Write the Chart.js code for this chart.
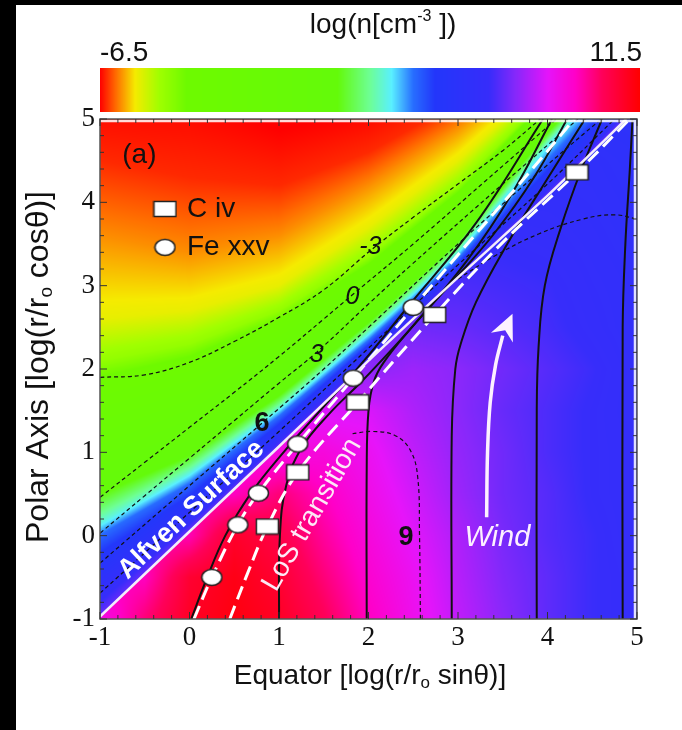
<!DOCTYPE html>
<html>
<head>
<meta charset="utf-8">
<script src="https://cdn.jsdelivr.net/npm/chart.js@4.4.1/dist/chart.umd.min.js"></script>
<style>
  html, body { margin: 0; padding: 0; background: #000; }
  #wrap { position: absolute; left: 16px; top: 5px; width: 666px; height: 725px; background: #fff; }
  canvas { display: block; }
</style>
</head>
<body>
<div id="wrap"><canvas id="c" width="666" height="725"></canvas></div>
<script>
// ---- data ----
const xTicks = [-1, 0, 1, 2, 3, 4, 5];
const yTicks = [-1, 0, 1, 2, 3, 4, 5];
const cbarRange = [-6.5, 11.5];

// ion markers (C iv squares, Fe xxv circles)
const civPoints = [[0.87, 0.11], [1.21, 0.76], [1.88, 1.6], [2.74, 2.65], [4.33, 4.36]];
const fePoints = [[0.25, -0.5], [0.54, 0.13], [0.77, 0.51], [1.21, 1.1], [1.83, 1.89], [2.5, 2.74]];

// lines of sight (white dashed) and the Alfven surface
const losFe = [[0.05, -1], [0.25, -0.5], [0.54, 0.13], [0.77, 0.51], [1.21, 1.1], [1.83, 1.89], [2.5, 2.74], [3.2, 3.62], [3.75, 4.3], [4.3, 5]];
const losCiv = [[0.45, -1], [0.65, -0.45], [0.87, 0.11], [1.21, 0.76], [1.88, 1.6], [2.74, 2.65], [3.5, 3.52], [4.33, 4.36], [4.92, 5]];
const alfvenLine = [[-1, -0.97], [0, 0.05], [1, 1.07], [2, 2.1], [3, 3.1], [4, 4.08], [4.88, 5]];

// magnetic field lines (black solid)
const field1 = [[0.02, -1], [0.18, -0.55], [0.4, 0.0], [0.68, 0.5], [1.05, 1.0], [1.5, 1.55], [1.95, 2.1], [2.42, 2.72], [3.2, 3.75], [3.95, 5]];
const field2 = [[1.0, -1], [1.01, 0.0], [1.08, 0.6], [1.25, 1.05], [1.55, 1.45], [1.95, 1.88], [2.5, 2.52], [3.1, 3.3], [3.6, 4.1], [4.05, 5]];
const field3 = [[1.98, -1], [1.98, 0.8], [2.0, 1.5], [2.06, 1.85], [2.17, 2.08], [2.46, 2.47], [2.9, 3.0], [3.4, 3.62], [3.85, 4.3], [4.22, 5]];
const field4 = [[2.93, -1], [2.93, 1.2], [2.97, 2.0], [3.03, 2.3], [3.2, 2.8], [3.55, 3.5], [3.95, 4.2], [4.42, 5]];
const field5 = [[3.88, -1], [3.88, 1.5], [3.9, 2.26], [3.97, 3.0], [4.15, 3.7], [4.38, 4.4], [4.61, 5]];
const field6 = [[4.84, -1], [4.84, 2.5], [4.87, 3.5], [4.92, 4.4], [4.95, 5]];

// dashed contours
const contourM3 = [[-1, 1.9], [-0.5, 1.93], [0, 2.08], [0.5, 2.33], [1, 2.62], [1.5, 2.95], [2.02, 3.42], [2.5, 3.82], [3, 4.22], [3.5, 4.62], [3.92, 5]];
const contour0 = [[-1, 0.46], [-0.5, 0.88], [0, 1.3], [0.5, 1.72], [1, 2.15], [1.5, 2.6], [1.82, 2.89], [2.5, 3.5], [3.3, 4.25], [4.1, 5]];
const contour3 = [[-1, 0.03], [-0.5, 0.48], [0, 0.93], [0.5, 1.38], [1, 1.83], [1.42, 2.2], [2, 2.78], [2.5, 3.27], [3.5, 4.22], [4.34, 5]];
const contour6 = [[-1, -0.33], [0, 0.6], [0.81, 1.35], [1.5, 2.0], [2, 2.5], [3, 3.5], [4, 4.45], [4.6, 5]];
const contourIn = [[-1, -0.69], [0, 0.28], [1, 1.25], [2, 2.25], [3, 3.25], [4, 4.22], [4.75, 5]];
const contour9 = [[2.58, -1], [2.57, 0], [2.55, 0.7], [2.47, 1.02], [2.3, 1.2], [2.05, 1.25], [1.8, 1.22]];
const contourWind = [[3.0, 3.08], [3.4, 3.35], [3.9, 3.62], [4.4, 3.8], [4.75, 3.85], [5, 3.8]];
const contourLabels = [['-3', 2.02, 3.46, 'italic'], ['0', 1.82, 2.86, 'italic'], ['3', 1.42, 2.17, 'italic'], ['6', 0.81, 1.35, 'bold'], ['9', 2.42, -0.02, 'bold']];

// wind arrow (last point is the tip)
const windArrow = [[3.32, 0.22], [3.33, 1.0], [3.36, 1.6], [3.42, 2.05], [3.5, 2.4], [3.6, 2.64]];

// density above the Alfven surface: for each column x, the height above the
// surface at which each density level is reached
const upperXs = [-1, 0, 1, 2, 3, 4, 5];
const upperLevels = [7.0, 5.5, 4.0, 3.0, 1.5, -1.0, -4.3, -5.2, -5.8, -6.3, -6.5];
const upperHeights = [
  [0, 0.5, 0.97, 1.12, 1.45, 2.1, 3.07, 3.57, 4.57, 5.47, 6.2],
  [0, 0.25, 0.57, 0.7, 0.9, 1.5, 2.25, 2.65, 3.35, 4.25, 5.2],
  [0, 0.15, 0.36, 0.45, 0.6, 1.1, 1.63, 1.93, 2.53, 3.13, 3.8],
  [0, 0.12, 0.24, 0.33, 0.45, 0.8, 1.25, 1.6, 2.1, 2.5, 3.0],
  [0, 0.1, 0.22, 0.3, 0.42, 0.7, 1.1, 1.4, 1.8, 2.1, 2.5],
  [0, 0.15, 0.42, 0.62, 0.75, 0.95, 1.2, 1.4, 1.7, 2.0, 2.4],
  [0, 0.2, 0.5, 0.7, 0.85, 1.1, 1.4, 1.6, 1.9, 2.2, 2.6]
];

// density below the Alfven surface: regular grid, rows are y = -1 .. 5
const lowerXs = [-1, -0.5, 0, 0.5, 1, 1.5, 2, 2.5, 3, 3.5, 4, 4.5, 5];
const lowerYs = [-1, -0.5, 0, 0.5, 1, 1.5, 2, 2.5, 3, 3.5, 4, 4.5, 5];
const lowerVals = [
  [8.8, 10.0, 11.0, 11.3, 11.0, 10.3, 9.4, 8.7, 8.0, 7.4, 6.9, 6.5, 6.3],
  [null, 9.4, 10.8, 11.2, 10.8, 10.0, 9.2, 8.6, 7.9, 7.3, 6.9, 6.5, 6.3],
  [null, null, 9.5, 10.9, 10.5, 9.7, 9.0, 8.4, 7.8, 7.2, 6.8, 6.5, 6.2],
  [null, null, null, 9.4, 10.0, 9.4, 8.8, 8.2, 7.6, 7.1, 6.8, 6.4, 6.2],
  [null, null, null, null, 8.9, 9.0, 8.6, 8.0, 7.5, 7.1, 6.7, 6.4, 6.2],
  [null, null, null, null, null, 8.3, 8.3, 7.8, 7.4, 7.0, 6.7, 6.4, 6.1],
  [null, null, null, null, null, null, 7.4, 7.6, 7.4, 7.1, 6.8, 6.5, 6.1],
  [null, null, null, null, null, null, null, 7.1, 7.0, 6.8, 6.6, 6.3, 6.0],
  [null, null, null, null, null, null, null, null, 6.7, 6.6, 6.5, 6.2, 6.0],
  [null, null, null, null, null, null, null, null, null, 6.4, 6.3, 6.1, 5.9],
  [null, null, null, null, null, null, null, null, null, null, 6.1, 6.0, 5.8],
  [null, null, null, null, null, null, null, null, null, null, null, 5.9, 5.7],
  [null, null, null, null, null, null, null, null, null, null, null, null, 5.6]
];

// ---- colour map (rainbow that wraps red -> red) ----
const cmapStops = [
  [0.00, 255, 0, 0], [0.03, 255, 110, 0], [0.065, 245, 235, 0], [0.11, 160, 255, 0],
  [0.16, 110, 250, 0], [0.44, 100, 250, 10], [0.50, 110, 255, 150], [0.54, 90, 240, 255],
  [0.58, 40, 110, 255], [0.62, 35, 55, 250], [0.72, 55, 45, 250], [0.77, 135, 40, 250],
  [0.83, 230, 20, 250], [0.88, 255, 0, 200], [0.93, 255, 0, 90], [1.00, 255, 0, 0]
];
function cmap(v) {
  let f = (v - cbarRange[0]) / (cbarRange[1] - cbarRange[0]);
  f = Math.max(0, Math.min(1, f));
  for (let i = 1; i < cmapStops.length; i++) {
    if (f <= cmapStops[i][0]) {
      const a = cmapStops[i - 1], b = cmapStops[i];
      const t = (f - a[0]) / (b[0] - a[0]);
      return [a[1] + (b[1] - a[1]) * t, a[2] + (b[2] - a[2]) * t, a[3] + (b[3] - a[3]) * t];
    }
  }
  return [255, 0, 0];
}

function seg(arr, v) {
  if (v <= arr[0]) return [0, 0];
  const n = arr.length - 1;
  if (v >= arr[n]) return [n - 1, 1];
  let i = 0;
  while (arr[i + 1] < v) i++;
  return [i, (v - arr[i]) / (arr[i + 1] - arr[i])];
}
function lineY(x, pts) {
  let i = 0;
  while (i < pts.length - 2 && pts[i + 1][0] < x) i++;
  const a = pts[i], b = pts[i + 1];
  return a[1] + (b[1] - a[1]) * (x - a[0]) / (b[0] - a[0]);
}
// rendering helper: extend each row of the lower grid up to the surface
const lowerFilled = lowerVals.map(row => {
  const r = row.slice();
  for (let i = r.length - 2; i >= 0; i--) if (r[i] === null) r[i] = r[i + 1];
  return r;
});
function fieldAt(x, y) {
  const yl = lineY(x, alfvenLine);
  if (y >= yl) {
    const [i, t] = seg(upperXs, x);
    const h0 = upperHeights[i], h1 = upperHeights[i + 1];
    const hs = h0.map((v, k) => v + (h1[k] - v) * t);
    const [k, u] = seg(hs, y - yl);
    return upperLevels[k] + (upperLevels[k + 1] - upperLevels[k]) * u;
  }
  const [i, tx] = seg(lowerXs, x), [j, ty] = seg(lowerYs, y);
  const r0 = lowerFilled[j], r1 = lowerFilled[j + 1];
  const a = r0[i] + (r0[i + 1] - r0[i]) * tx;
  const b = r1[i] + (r1[i + 1] - r1[i]) * tx;
  return a + (b - a) * ty;
}

// ---- plugins ----
const heatmap = {
  id: 'heatmap',
  beforeDatasetsDraw(chart) {
    const { ctx, chartArea: a, scales: { x: sx, y: sy } } = chart;
    const w = Math.round(a.right - a.left), h = Math.round(a.bottom - a.top);
    const off = document.createElement('canvas');
    off.width = w; off.height = h;
    const octx = off.getContext('2d');
    const img = octx.createImageData(w, h);
    for (let j = 0; j < h; j++) {
      const yv = sy.getValueForPixel(a.top + j + 0.5);
      for (let i = 0; i < w; i++) {
        const xv = sx.getValueForPixel(a.left + i + 0.5);
        const c = cmap(fieldAt(xv, yv));
        const k = (j * w + i) * 4;
        img.data[k] = c[0]; img.data[k + 1] = c[1]; img.data[k + 2] = c[2]; img.data[k + 3] = 255;
      }
    }
    octx.putImageData(img, 0, 0);
    ctx.drawImage(off, a.left, a.top);
  }
};

function drawRich(ctx, parts, cx, cy, angle) {
  ctx.save();
  ctx.translate(cx, cy);
  ctx.rotate(angle);
  ctx.textBaseline = 'middle';
  ctx.textAlign = 'left';
  let total = 0;
  parts.forEach(p => { ctx.font = p.font; total += ctx.measureText(p.t).width; });
  let x = -total / 2;
  parts.forEach(p => {
    ctx.font = p.font;
    ctx.fillStyle = p.color || '#111';
    ctx.fillText(p.t, x, p.dy || 0);
    x += ctx.measureText(p.t).width;
  });
  ctx.restore();
}

const decorations = {
  id: 'decorations',
  afterDatasetsDraw(chart) {
    const { ctx, chartArea: a, scales: { x: sx, y: sy } } = chart;
    const px = v => sx.getPixelForValue(v), py = v => sy.getPixelForValue(v);
    ctx.save();

    // arrow head of the wind arrow
    const n = windArrow.length;
    const tx = px(windArrow[n - 1][0]), ty = py(windArrow[n - 1][1]);
    const bx = px(windArrow[n - 2][0]), by = py(windArrow[n - 2][1]);
    const ang = Math.atan2(ty - by, tx - bx);
    ctx.translate(tx, ty); ctx.rotate(ang);
    ctx.fillStyle = '#fdf2ff';
    ctx.beginPath();
    ctx.moveTo(2, 0); ctx.lineTo(-24, -12); ctx.lineTo(-16, 0); ctx.lineTo(-24, 12); ctx.closePath();
    ctx.fill();
    ctx.setTransform(1, 0, 0, 1, 0, 0);

    // contour labels
    ctx.textAlign = 'center'; ctx.textBaseline = 'middle'; ctx.fillStyle = '#111';
    contourLabels.forEach(([t, x, y, style]) => {
      ctx.font = (style === 'bold' ? 'bold 27px' : 'italic 25px') + ' "Liberation Sans", Arial, sans-serif';
      ctx.fillText(t, px(x), py(y));
    });

    // in-plot texts
    const aAng = Math.atan2(py(alfvenLine[5][1]) - py(alfvenLine[1][1]), px(alfvenLine[5][0]) - px(alfvenLine[1][0]));
    drawRich(ctx, [{ t: 'Alfven Surface', font: 'bold 27px "Liberation Sans", Arial, sans-serif', color: '#fff' }], px(0.02), py(0.31), aAng);
    drawRich(ctx, [{ t: 'LoS transition', font: '28px "Liberation Sans", Arial, sans-serif', color: '#fde8f6' }], px(1.37), py(0.25), -Math.PI / 3);
    drawRich(ctx, [{ t: 'Wind', font: 'italic 29px "Liberation Sans", Arial, sans-serif', color: '#fdf0ff' }], px(3.44), py(-0.03), 0);
    drawRich(ctx, [{ t: '(a)', font: '28px "Liberation Sans", Arial, sans-serif' }], px(-0.56), py(4.57), 0);

    // marker key
    ctx.drawImage(rectMark, px(-0.274) - rectMark.width / 2, py(3.92) - rectMark.height / 2);
    ctx.drawImage(ovalMark, px(-0.274) - ovalMark.width / 2, py(3.46) - ovalMark.height / 2);
    ctx.font = '28px "Liberation Sans", Arial, sans-serif';
    ctx.textAlign = 'left'; ctx.fillStyle = '#111';
    ctx.fillText('C iv', px(-0.028), py(3.92));
    ctx.fillText('Fe xxv', px(-0.028), py(3.46));

    // frame with inward ticks
    ctx.strokeStyle = 'rgba(255,255,255,0.85)'; ctx.lineWidth = 2.5;
    ctx.beginPath();
    ctx.moveTo(a.left, a.top + 2); ctx.lineTo(a.right - 2, a.top + 2); ctx.lineTo(a.right - 2, a.bottom);
    ctx.stroke();
    ctx.strokeStyle = '#555'; ctx.lineWidth = 1.5;
    ctx.strokeRect(a.left, a.top, a.right - a.left, a.bottom - a.top);
    ctx.strokeStyle = '#333'; ctx.lineWidth = 1;
    ctx.beginPath();
    for (let k = 0; k <= 30; k++) {
      const v = -1 + k * 0.2, len = k % 5 === 0 ? 7 : 4;
      const X = px(v), Y = py(v);
      ctx.moveTo(X, a.bottom); ctx.lineTo(X, a.bottom - len);
      ctx.moveTo(X, a.top); ctx.lineTo(X, a.top + len);
      ctx.moveTo(a.left, Y); ctx.lineTo(a.left + len, Y);
      ctx.moveTo(a.right, Y); ctx.lineTo(a.right - len, Y);
    }
    ctx.stroke();

    // colour bar
    const cbL = 84, cbR = 624, cbT = 63, cbB = 107;
    for (let i = cbL; i < cbR; i++) {
      const v = cbarRange[0] + (i + 0.5 - cbL) / (cbR - cbL) * (cbarRange[1] - cbarRange[0]);
      const c = cmap(v);
      ctx.fillStyle = `rgb(${c[0] | 0},${c[1] | 0},${c[2] | 0})`;
      ctx.fillRect(i, cbT, 1, cbB - cbT);
    }
    ctx.fillStyle = '#111';
    ctx.font = '28px "Liberation Sans", Arial, sans-serif';
    ctx.textBaseline = 'middle';
    ctx.textAlign = 'left'; ctx.fillText(String(cbarRange[0]), cbL, 48);
    ctx.textAlign = 'right'; ctx.fillText(String(cbarRange[1]), cbR + 2, 48);
    const sans = s => s + 'px "Liberation Sans", Arial, sans-serif';
    drawRich(ctx, [{ t: 'log(n[cm', font: sans(28) }, { t: '-3', font: sans(16), dy: -8 }, { t: ' ])', font: sans(28) }], 367, 20, 0);

    // axis titles
    drawRich(ctx, [{ t: 'Equator [log(r/r', font: sans(28) }, { t: 'o', font: sans(17), dy: 7 }, { t: ' sin\u03b8)]', font: sans(28) }], 354, 671, 0);
    drawRich(ctx, [{ t: 'Polar Axis [log(r/r', font: sans(32) }, { t: 'o', font: sans(19), dy: 8 }, { t: ' cos\u03b8)]', font: sans(32) }], 23, 362, -Math.PI / 2);
    ctx.restore();
  }
};

// marker images
function makeMark(w, h, oval) {
  const c = document.createElement('canvas');
  c.width = w + 3; c.height = h + 3;
  const g = c.getContext('2d');
  g.fillStyle = '#fff'; g.strokeStyle = '#222'; g.lineWidth = 1.5;
  g.beginPath();
  if (oval) g.ellipse(c.width / 2, c.height / 2, w / 2, h / 2, 0, 0, Math.PI * 2);
  else g.rect(1.5, 1.5, w, h);
  g.fill(); g.stroke();
  return c;
}
const rectMark = makeMark(22, 15, false);
const ovalMark = makeMark(20, 16, true);

const xy = arr => arr.map(p => ({ x: p[0], y: p[1] }));
const lineSet = (data, color, width, dash, tension) => ({
  data: xy(data), showLine: true, borderColor: color, borderWidth: width, borderDash: dash || [],
  pointRadius: 0, tension: tension === undefined ? 0.4 : tension, order: 5
});

new Chart(document.getElementById('c'), {
  type: 'scatter',
  data: {
    datasets: [
      { data: xy(civPoints), pointStyle: rectMark, pointRadius: 10, order: 0 },
      { data: xy(fePoints), pointStyle: ovalMark, pointRadius: 10, order: 0 },
      lineSet(windArrow.slice(0, -1), '#fdf0ff', 3.5),
      lineSet(alfvenLine, '#f3ecfb', 2.5, [], 0.2),
      lineSet(losFe, '#ffffff', 3, [14, 7]),
      lineSet(losCiv, '#ffffff', 3, [14, 7]),
      lineSet(field1, '#111', 2), lineSet(field2, '#111', 2), lineSet(field3, '#111', 2),
      lineSet(field4, '#111', 2), lineSet(field5, '#111', 2), lineSet(field6, '#111', 2),
      lineSet(contourM3, '#111', 1.2, [4, 3]), lineSet(contour0, '#111', 1.2, [4, 3]),
      lineSet(contour3, '#111', 1.2, [4, 3]), lineSet(contour6, '#111', 1.2, [4, 3]),
      lineSet(contourIn, '#111', 1.2, [4, 3]), lineSet(contour9, '#111', 1.2, [4, 3]),
      lineSet(contourWind, '#111', 1.2, [4, 3])
    ]
  },
  options: {
    responsive: false,
    animation: false,
    devicePixelRatio: 1,
    layout: { padding: { left: 0, top: 114, right: 45, bottom: 0 } },
    plugins: { legend: { display: false }, tooltip: { enabled: false } },
    scales: {
      x: {
        type: 'linear', min: xTicks[0], max: xTicks[xTicks.length - 1],
        afterBuildTicks: s => { s.ticks = xTicks.map(v => ({ value: v })); },
        ticks: { color: '#111', padding: 3, maxRotation: 0, font: { family: '"Liberation Serif", "Times New Roman", serif', size: 27 } },
        grid: { display: false, drawTicks: false }, border: { display: false },
        afterFit: s => { s.height = 111; }
      },
      y: {
        type: 'linear', min: yTicks[0], max: yTicks[yTicks.length - 1],
        afterBuildTicks: s => { s.ticks = yTicks.map(v => ({ value: v })); },
        ticks: { color: '#111', padding: 5, font: { family: '"Liberation Serif", "Times New Roman", serif', size: 27 } },
        grid: { display: false, drawTicks: false }, border: { display: false },
        afterFit: s => { s.width = 84; }
      }
    }
  },
  plugins: [heatmap, decorations]
});
</script>
</body>
</html>
